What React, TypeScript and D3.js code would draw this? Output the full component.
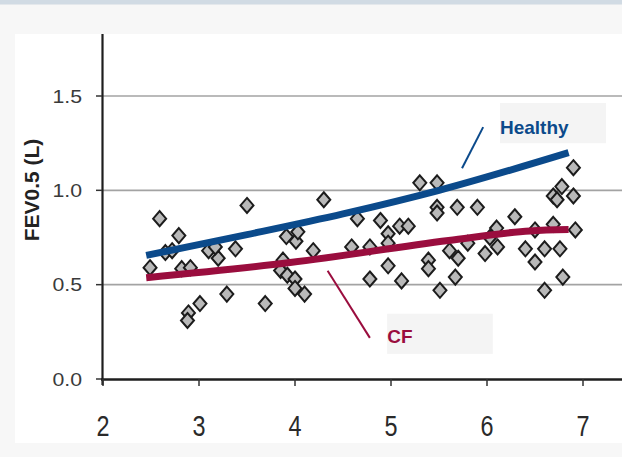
import React from "react";
import * as d3 from "d3";

// Measured FEV0.5 (L) against the x variable, one entry per subject
const POINT_X = [
  2.49, 2.59, 2.79, 2.82, 2.91, 3.01, 2.89, 2.88, 3.1, 3.2, 3.17, 3.38, 3.5, 3.29, 3.69,
  3.91, 4.01, 4.03, 4.19, 4.3, 4.59, 3.875, 3.85, 3.92, 4.0, 4.0, 4.1, 4.65, 4.89, 4.97,
  5.09, 5.18, 4.97, 4.78, 4.97, 5.11, 4.78, 5.3, 5.48, 5.48, 5.48, 5.69, 5.39, 5.39, 5.61,
  5.7, 5.67, 5.51, 5.9, 6.29, 6.1, 6.03, 6.11, 5.98, 5.8, 6.5, 6.69, 6.92, 6.4, 6.6,
  6.76, 6.5, 6.79, 6.6, 6.9, 6.78, 6.69, 6.9, 6.73, 2.65, 2.72
];
const POINT_Y = [
  0.59, 0.85, 0.76, 0.585, 0.59, 0.4, 0.35, 0.31, 0.68, 0.64, 0.7, 0.69, 0.92, 0.45, 0.4,
  0.755, 0.73, 0.78, 0.68, 0.95, 0.7, 0.63, 0.575, 0.55, 0.53, 0.48, 0.45, 0.85, 0.84, 0.77,
  0.81, 0.81, 0.72, 0.7, 0.6, 0.52, 0.53, 1.04, 1.04, 0.91, 0.88, 0.91, 0.63, 0.585, 0.68,
  0.64, 0.54, 0.47, 0.91, 0.86, 0.8, 0.75, 0.7, 0.665, 0.72, 0.79, 0.82, 0.79, 0.69, 0.69,
  0.69, 0.62, 0.54, 0.47, 1.12, 1.02, 0.97, 0.97, 0.95, 0.67, 0.68
];

// Reference curves
const HEALTHY_X = [2.45, 3.5, 4.5, 5.5, 6.85];
const HEALTHY_Y = [0.655, 0.765, 0.875, 1.0, 1.2];
const CF_X = [2.45, 3.95, 5.6, 6.45, 6.85];
const CF_Y = [0.537, 0.617, 0.734, 0.785, 0.792];

const X_TICKS = [2, 3, 4, 5, 6, 7];
const Y_TICKS = [0, 0.5, 1.0, 1.5];
const Y_LABEL = "FEV0.5 (L)";

const BLUE = "#0b4a8b";
const RED = "#9a0d3e";

export default function App() {
  const W = 622;
  const H = 457;
  const x = d3.scaleLinear().domain([2, 7]).range([103, 583]);
  const y = d3.scaleLinear().domain([0, 1.5]).range([379, 96]);

  const line = d3
    .line<[number, number]>()
    .x((d) => x(d[0]))
    .y((d) => y(d[1]))
    .curve(d3.curveMonotoneX);

  const healthy = line(HEALTHY_X.map((v, i) => [v, HEALTHY_Y[i]] as [number, number]));
  const cf = line(CF_X.map((v, i) => [v, CF_Y[i]] as [number, number]));

  const diamond = "M0,-7.5L6.5,0L0,7.5L-6.5,0Z";
  const font = "'Liberation Sans', Arial, sans-serif";

  return (
    <svg
      width={W}
      height={H}
      style={{ position: "absolute", left: 0, top: 0, display: "block" }}
    >
      {/* page chrome */}
      <rect x={0} y={0} width={W} height={H} fill="#f7f7f7" />
      <rect x={0} y={0} width={W} height={4} fill="#d1dbe4" />
      <rect x={0} y={4} width={W} height={1} fill="#e4e8ec" />
      <rect x={15} y={34} width={W - 15} height={409} fill="#ffffff" />

      {/* gridlines */}
      {Y_TICKS.filter((t) => t > 0).map((t) => (
        <line
          key={"g" + t}
          x1={x(2)}
          x2={W}
          y1={y(t)}
          y2={y(t)}
          stroke="#a3a3a3"
          strokeWidth={1.6}
        />
      ))}

      {/* y axis */}
      <line x1={102.5} x2={102.5} y1={34} y2={385} stroke="#1e1e1e" strokeWidth={2.2} />
      {Y_TICKS.map((t) => (
        <g key={"y" + t}>
          <line x1={96} x2={102} y1={y(t)} y2={y(t)} stroke="#333" strokeWidth={1.5} />
          <text
            transform={`translate(82,${y(t)}) scale(1.12,1)`}
            textAnchor="end"
            dominantBaseline="central"
            fontFamily={font}
            fontSize={19}
            fill="#3a3a3a"
          >
            {t.toFixed(1)}
          </text>
        </g>
      ))}

      {/* x axis */}
      <line x1={101} x2={W} y1={379.5} y2={379.5} stroke="#1e1e1e" strokeWidth={2.6} />
      {X_TICKS.map((t) => (
        <g key={"x" + t}>
          <line x1={x(t)} x2={x(t)} y1={379} y2={386} stroke="#333" strokeWidth={1.5} />
          <text
            transform={`translate(${x(t)},436) scale(0.78,1)`}
            textAnchor="middle"
            fontFamily={font}
            fontSize={30}
            fill="#2a2a2a"
          >
            {t}
          </text>
        </g>
      ))}

      {/* y axis title */}
      <text
        transform="translate(39,190) rotate(-90)"
        textAnchor="middle"
        fontFamily={font}
        fontWeight="bold"
        fontSize={21}
        fill="#222"
      >
        {Y_LABEL}
      </text>

      {/* measurements */}
      {POINT_X.map((v, i) => (
        <path
          key={"p" + i}
          d={diamond}
          transform={`translate(${x(v)},${y(POINT_Y[i])})`}
          fill="#b9b9b9"
          stroke="#1c1c1c"
          strokeWidth={2}
        />
      ))}

      {/* reference curves */}
      <path d={healthy ?? ""} fill="none" stroke={BLUE} strokeWidth={7} />
      <path d={cf ?? ""} fill="none" stroke={RED} strokeWidth={7} />

      {/* annotations */}
      <line x1={x(5.74)} y1={y(1.117)} x2={x(5.96)} y2={y(1.335)} stroke={BLUE} strokeWidth={2} />
      <rect x={x(6.135)} y={y(1.463)} width={x(7.24) - x(6.135)} height={y(1.25) - y(1.463)} fill="#f4f4f4" />
      <text x={x(6.135)} y={y(1.3)} fontFamily={font} fontWeight="bold" fontSize={19} fill={BLUE}>
        Healthy
      </text>

      <line x1={x(4.34)} y1={y(0.574)} x2={x(4.78)} y2={y(0.218)} stroke={RED} strokeWidth={2} />
      <rect x={x(4.96)} y={y(0.346)} width={x(6.06) - x(4.96)} height={y(0.133) - y(0.346)} fill="#f4f4f4" />
      <text x={x(4.96)} y={y(0.192)} fontFamily={font} fontWeight="bold" fontSize={19} fill={RED}>
        CF
      </text>
    </svg>
  );
}
